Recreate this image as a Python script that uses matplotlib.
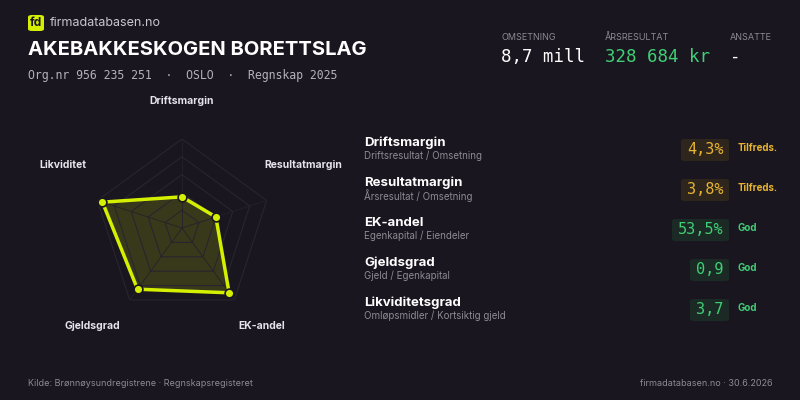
import numpy as np
import matplotlib.pyplot as plt
from matplotlib.patches import FancyBboxPatch

BG = "#1a1620"
LIME = "#d4f000"
GREEN = "#3fcf75"
AMBER = "#e8b431"

axis_labels = ["Driftsmargin", "Resultatmargin", "EK-andel", "Gjeldsgrad", "Likviditet"]
scores = [0.35, 0.40, 0.90, 0.85, 0.94]

metric_names = ["Driftsmargin", "Resultatmargin", "EK-andel", "Gjeldsgrad", "Likviditetsgrad"]
metric_formulas = ["Driftsresultat / Omsetning", "Årsresultat / Omsetning", "Egenkapital / Eiendeler",
                   "Gjeld / Egenkapital", "Omløpsmidler / Kortsiktig gjeld"]
metric_values = ["4,3%", "3,8%", "53,5%", "0,9", "3,7"]
metric_ratings = ["Tilfreds.", "Tilfreds.", "God", "God", "God"]

W, H = 800, 400
fig = plt.figure(figsize=(8, 4), dpi=100, facecolor=BG)


def px(x, y):
    return x / W, 1 - y / H


def text(x, y, s, **kw):
    fig.text(*px(x, y), s, **kw)


# header
logo = FancyBboxPatch(px(28, 31), 16 / W, 16 / H, boxstyle="round,pad=0,rounding_size=0.005",
                      transform=fig.transFigure, facecolor=LIME, edgecolor="none")
fig.patches.append(logo)
text(36, 23, "fd", color=BG, fontsize=8.5, fontweight="bold", ha="center", va="center", family="Inter")
text(50, 23, "firmadatabasen.no", color="#c9c6cf", fontsize=9, va="center", family="Inter")
text(28, 50, "AKEBAKKESKOGEN BORETTSLAG", color="white", fontsize=14.5, fontweight="bold",
     va="center", family="Inter")
text(28, 75, "Org.nr 956 235 251  ·  OSLO  ·  Regnskap 2025", color="#b5b2bb", fontsize=8.3,
     va="center", family="DejaVu Sans Mono")

for x, lab, val, col in [(501, "OMSETNING", "8,7 mill", "white"),
                         (605, "ÅRSRESULTAT", "328 684 kr", GREEN),
                         (730, "ANSATTE", "-", "white")]:
    text(x, 37, lab, color="#8d8a94", fontsize=6.5, va="center", family="Inter")
    text(x, 57, val, color=col, fontsize=12.5, va="center", family="DejaVu Sans Mono")

# radar
cx, cy, R = 182, 228, 89
ax = fig.add_axes([(cx - R) / W, (H - cy - R) / H, 2 * R / W, 2 * R / H], projection="polar")
ax.set_facecolor("none")
ax.set_theta_zero_location("N")
ax.set_theta_direction(-1)
n = len(axis_labels)
ang = np.linspace(0, 2 * np.pi, n, endpoint=False)
for lvl in [0.2, 0.4, 0.6, 0.8, 1.0]:
    ax.plot(np.append(ang, ang[0]), [lvl] * (n + 1), color="#29252f", lw=0.8)
for a in ang:
    ax.plot([a, a], [0, 1], color="#25212b", lw=0.6)
vals = np.append(scores, scores[0])
aa = np.append(ang, ang[0])
ax.fill(aa, vals, color=LIME, alpha=0.16)
ax.plot(aa, vals, color=LIME, lw=2.5)
ax.scatter(ang, scores, s=40, color=LIME, edgecolor=BG, linewidth=1.2, zorder=5)
ax.set_ylim(0, 1)
ax.axis("off")

label_pos = [(182, 101, "center"), (264, 165, "left"), (238, 326, "left"),
             (120, 326, "right"), (86, 165, "right")]
for (x, y, ha), lab in zip(label_pos, axis_labels):
    text(x, y, lab, color="#e6e3ea", fontsize=7.5, fontweight="bold", ha=ha, va="center",
         family="Inter")

# metrics list
for i, (nm, fm, v, r) in enumerate(zip(metric_names, metric_formulas, metric_values, metric_ratings)):
    y = 143 + i * 40
    text(364, y, nm, color="white", fontsize=9.5, fontweight="bold", va="center", family="Inter")
    text(364, y + 13, fm, color="#8d8a94", fontsize=7, va="center", family="Inter")
    col = AMBER if r.startswith("Tilfreds") else GREEN
    boxc = "#2e261c" if col == AMBER else "#1c2a25"
    bw = 12 + 9 * len(v)
    x1 = 729
    fig.patches.append(FancyBboxPatch(px(x1 - bw, y + 18), bw / W, 22 / H,
                                      boxstyle="round,pad=0,rounding_size=0.005",
                                      transform=fig.transFigure, facecolor=boxc, edgecolor="none"))
    text(x1 - bw / 2, y + 7, v, color=col, fontsize=11, ha="center", va="center",
         family="DejaVu Sans Mono")
    text(738, y + 5, r, color=col, fontsize=7, fontweight="bold", va="center", family="Inter")

# footer
text(28, 383, "Kilde: Brønnøysundregistrene · Regnskapsregisteret", color="#8d8a94", fontsize=6.5,
     va="center", family="Inter")
text(772, 383, "firmadatabasen.no · 30.6.2026", color="#8d8a94", fontsize=6.5, va="center",
     ha="right", family="Inter")

fig.savefig("out.png", dpi=100, facecolor=BG)
